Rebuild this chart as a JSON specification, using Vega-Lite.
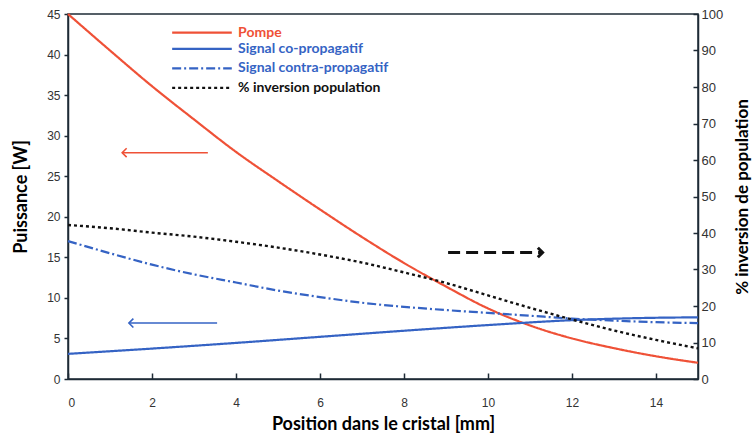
{
  "$schema": "https://vega.github.io/schema/vega-lite/v6.json",
  "width": 630,
  "height": 365,
  "autosize": "none",
  "padding": {"left": 68, "top": 14, "right": 54, "bottom": 55},
  "background": "white",
  "config": {
    "view": {"stroke": "#1e2b36", "strokeWidth": 1.5},
    "axis": {
      "domainColor": "#1e2b36",
      "domainWidth": 1.5,
      "tickColor": "#1e2b36",
      "tickWidth": 1.5,
      "labelFont": "Liberation Sans",
      "labelFontSize": 12,
      "labelColor": "#333333",
      "titleFont": "Lato",
      "titleFontSize": 18,
      "titleFontWeight": "bold",
      "titleColor": "#000000",
      "grid": false
    }
  },
  "datasets": {
    "curves": [
      {"x": 0, "W": 45.0, "series": "Pompe"},
      {"x": 1, "W": 40.5, "series": "Pompe"},
      {"x": 2, "W": 36.1, "series": "Pompe"},
      {"x": 3, "W": 32.0, "series": "Pompe"},
      {"x": 4, "W": 28.0, "series": "Pompe"},
      {"x": 5, "W": 24.4, "series": "Pompe"},
      {"x": 6, "W": 20.9, "series": "Pompe"},
      {"x": 7, "W": 17.5, "series": "Pompe"},
      {"x": 8, "W": 14.3, "series": "Pompe"},
      {"x": 9, "W": 11.4, "series": "Pompe"},
      {"x": 10, "W": 8.7, "series": "Pompe"},
      {"x": 11, "W": 6.6, "series": "Pompe"},
      {"x": 12, "W": 5.0, "series": "Pompe"},
      {"x": 13, "W": 3.8, "series": "Pompe"},
      {"x": 14, "W": 2.8, "series": "Pompe"},
      {"x": 15, "W": 2.0, "series": "Pompe"},
      {"x": 0, "W": 3.1, "series": "Signal co-propagatif"},
      {"x": 2, "W": 3.75, "series": "Signal co-propagatif"},
      {"x": 4, "W": 4.45, "series": "Signal co-propagatif"},
      {"x": 6, "W": 5.2, "series": "Signal co-propagatif"},
      {"x": 8, "W": 5.95, "series": "Signal co-propagatif"},
      {"x": 10, "W": 6.65, "series": "Signal co-propagatif"},
      {"x": 12, "W": 7.25, "series": "Signal co-propagatif"},
      {"x": 14, "W": 7.55, "series": "Signal co-propagatif"},
      {"x": 15, "W": 7.6, "series": "Signal co-propagatif"},
      {"x": 0, "W": 17.0, "series": "Signal contra-propagatif"},
      {"x": 1, "W": 15.5, "series": "Signal contra-propagatif"},
      {"x": 2, "W": 14.1, "series": "Signal contra-propagatif"},
      {"x": 3, "W": 12.9, "series": "Signal contra-propagatif"},
      {"x": 4, "W": 11.9, "series": "Signal contra-propagatif"},
      {"x": 5, "W": 10.9, "series": "Signal contra-propagatif"},
      {"x": 6, "W": 10.1, "series": "Signal contra-propagatif"},
      {"x": 7, "W": 9.4, "series": "Signal contra-propagatif"},
      {"x": 8, "W": 8.9, "series": "Signal contra-propagatif"},
      {"x": 9, "W": 8.5, "series": "Signal contra-propagatif"},
      {"x": 10, "W": 8.15, "series": "Signal contra-propagatif"},
      {"x": 11, "W": 7.8, "series": "Signal contra-propagatif"},
      {"x": 12, "W": 7.45, "series": "Signal contra-propagatif"},
      {"x": 13, "W": 7.2, "series": "Signal contra-propagatif"},
      {"x": 14, "W": 7.0, "series": "Signal contra-propagatif"},
      {"x": 15, "W": 6.9, "series": "Signal contra-propagatif"}
    ],
    "inv": [
      {"x": 0, "pct": 42.2},
      {"x": 1, "pct": 41.3},
      {"x": 2, "pct": 40.1},
      {"x": 3, "pct": 39.0},
      {"x": 4, "pct": 37.6},
      {"x": 5, "pct": 36.0},
      {"x": 6, "pct": 34.1},
      {"x": 7, "pct": 31.9},
      {"x": 8, "pct": 29.2},
      {"x": 9, "pct": 26.3},
      {"x": 10, "pct": 22.9},
      {"x": 11, "pct": 19.5},
      {"x": 12, "pct": 16.3},
      {"x": 13, "pct": 13.3},
      {"x": 14, "pct": 10.7},
      {"x": 15, "pct": 8.4}
    ],
    "legend": [
      {"series": "Pompe", "y": 42.7},
      {"series": "Signal co-propagatif", "y": 40.7},
      {"series": "Signal contra-propagatif", "y": 38.3},
      {"series": "% inversion population", "y": 35.9}
    ],
    "arrows": [
      {"arrow": "pompe", "tail": 3.33, "tip": 1.29, "y": 27.9},
      {"arrow": "signal", "tail": 3.55, "tip": 1.45, "y": 6.9},
      {"arrow": "inversion", "tail": 9.05, "tip": 11.3, "y": 15.6}
    ]
  },
  "layer": [
    {
      "layer": [
        {
          "data": {"name": "curves"},
          "mark": {"type": "line", "strokeWidth": 2.2, "interpolate": "monotone"},
          "encoding": {
            "x": {
              "field": "x", "type": "quantitative",
              "scale": {"domain": [0, 15], "nice": false},
              "axis": {"title": "Position dans le cristal [mm]", "values": [0, 2, 4, 6, 8, 10, 12, 14], "tickSize": -6, "labelPadding": 24, "titlePadding": 7}
            },
            "y": {
              "field": "W", "type": "quantitative",
              "scale": {"domain": [0, 45], "nice": false},
              "axis": {"title": "Puissance [W]", "values": [0, 5, 10, 15, 20, 25, 30, 35, 40, 45], "tickSize": 4, "labelPadding": 4, "titlePadding": 16}
            },
            "color": {
              "field": "series", "type": "nominal",
              "scale": {"domain": ["Pompe", "Signal co-propagatif", "Signal contra-propagatif", "% inversion population"], "range": ["#ef5137", "#3563c4", "#3563c4", "#111111"]},
              "legend": null
            },
            "strokeDash": {
              "field": "series", "type": "nominal",
              "scale": {"domain": ["Pompe", "Signal co-propagatif", "Signal contra-propagatif", "% inversion population"], "range": [[1, 0], [1, 0], [9, 3, 2, 3], [3, 3]]},
              "legend": null
            }
          }
        },
        {
          "data": {"name": "legend"},
          "mark": {"type": "rule", "strokeWidth": 2.2},
          "encoding": {
            "x": {"datum": 2.48, "type": "quantitative"},
            "x2": {"datum": 3.9},
            "y": {"field": "y", "type": "quantitative"},
            "color": {"field": "series", "type": "nominal", "legend": null},
            "strokeDash": {"field": "series", "type": "nominal", "legend": null}
          }
        },
        {
          "data": {"name": "legend"},
          "mark": {"type": "text", "align": "left", "baseline": "middle", "font": "Lato", "fontSize": 14, "fontWeight": "bold"},
          "encoding": {
            "x": {"datum": 4.05, "type": "quantitative"},
            "y": {"field": "y", "type": "quantitative"},
            "text": {"field": "series", "type": "nominal"},
            "color": {"field": "series", "type": "nominal", "legend": null}
          }
        },
        {
          "data": {"name": "arrows"},
          "transform": [{"filter": "datum.arrow === 'pompe'"}],
          "layer": [
            {
              "mark": {"type": "rule", "color": "#ef5137", "strokeWidth": 1.6},
              "encoding": {
                "x": {"field": "tail", "type": "quantitative"},
                "x2": {"field": "tip"},
                "y": {"field": "y", "type": "quantitative"}
              }
            },
            {
              "mark": {"type": "point", "shape": "M1,-1L0,0L1,1", "filled": false, "size": 80, "color": "#ef5137", "strokeWidth": 1.6, "opacity": 1},
              "encoding": {
                "x": {"field": "tip", "type": "quantitative"},
                "y": {"field": "y", "type": "quantitative"}
              }
            }
          ]
        },
        {
          "data": {"name": "arrows"},
          "transform": [{"filter": "datum.arrow === 'signal'"}],
          "layer": [
            {
              "mark": {"type": "rule", "color": "#3563c4", "strokeWidth": 1.6},
              "encoding": {
                "x": {"field": "tail", "type": "quantitative"},
                "x2": {"field": "tip"},
                "y": {"field": "y", "type": "quantitative"}
              }
            },
            {
              "mark": {"type": "point", "shape": "M1,-1L0,0L1,1", "filled": false, "size": 80, "color": "#3563c4", "strokeWidth": 1.6, "opacity": 1},
              "encoding": {
                "x": {"field": "tip", "type": "quantitative"},
                "y": {"field": "y", "type": "quantitative"}
              }
            }
          ]
        },
        {
          "data": {"name": "arrows"},
          "transform": [{"filter": "datum.arrow === 'inversion'"}],
          "layer": [
            {
              "mark": {"type": "rule", "color": "#111111", "strokeWidth": 3, "strokeDash": [12, 6]},
              "encoding": {
                "x": {"field": "tail", "type": "quantitative"},
                "x2": {"field": "tip"},
                "y": {"field": "y", "type": "quantitative"}
              }
            },
            {
              "mark": {"type": "point", "shape": "M-1,-1L0,0L-1,1", "filled": false, "size": 90, "color": "#111111", "strokeWidth": 3, "opacity": 1},
              "encoding": {
                "x": {"field": "tip", "type": "quantitative"},
                "y": {"field": "y", "type": "quantitative"}
              }
            }
          ]
        }
      ]
    },
    {
      "data": {"name": "inv"},
      "mark": {"type": "line", "color": "#111111", "strokeWidth": 2.4, "strokeDash": [3, 3], "interpolate": "monotone"},
      "encoding": {
        "x": {"field": "x", "type": "quantitative"},
        "y": {
          "field": "pct", "type": "quantitative",
          "scale": {"domain": [0, 100], "nice": false},
          "axis": {"orient": "right", "title": "% inversion de population", "values": [0, 10, 20, 30, 40, 50, 60, 70, 80, 90, 100], "tickSize": -5, "labelPadding": 8, "labelFontSize": 13, "titleAngle": -90, "titleFontSize": 17, "titlePadding": 29}
        }
      }
    }
  ],
  "resolve": {"scale": {"y": "independent"}}
}
